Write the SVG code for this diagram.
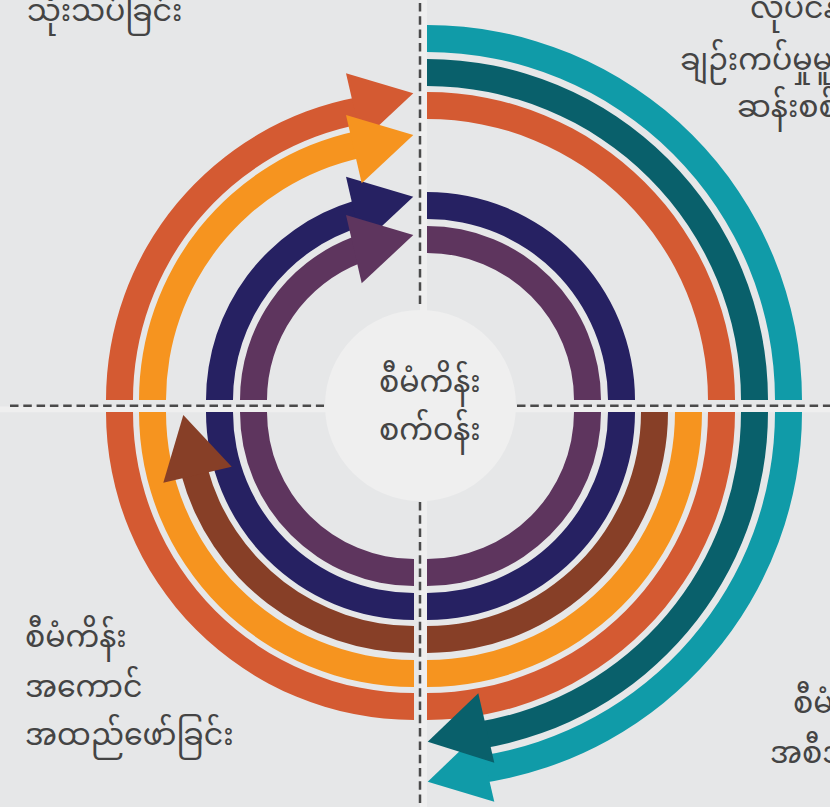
<svg xmlns="http://www.w3.org/2000/svg" width="830" height="807" viewBox="0 0 830 807">
<style>
.lbl{font-family:"Noto Sans Myanmar","Myanmar Text",Padauk,"Noto Sans","DejaVu Sans",sans-serif;font-size:30px;fill:#444444}
.dash{stroke:#4a4a4a;stroke-width:2.5;stroke-dasharray:8.5 4.8;fill:none}
.teal{fill:#109ba8}.dteal{fill:#09606b}.ored{fill:#d45a32}.orange{fill:#f6941f}.brown{fill:#873f27}.navy{fill:#262162}.purple{fill:#5e355e}
</style>
<rect width="830" height="807" fill="#e6e7e8"/>
<g id="dividers">
<rect x="420" y="0" width="7" height="807" fill="#efefef"/>
<rect x="0" y="406.5" width="830" height="5.8" fill="#efefef"/>
<line class="dash" x1="420" y1="3" x2="420" y2="306"/>
<line class="dash" x1="420" y1="502" x2="420" y2="807"/>
<line class="dash" x1="10" y1="405.7" x2="324" y2="405.7"/>
<line class="dash" x1="517" y1="405.7" x2="830" y2="405.7"/>
</g>
<g id="connectors">
<g id="navy">
<path class="navy" d="M427,192 A208,208 0 0 1 635,400 L608,400 A181,181 0 0 0 427,219 Z"/>
<path class="navy" d="M635,412 A208,208 0 0 1 427,620 L427,593 A181,181 0 0 0 608,412 Z"/>
<path class="navy" d="M414,620 A208,208 0 0 1 206,412 L233,412 A181,181 0 0 0 414,593 Z"/>
<path class="navy" d="M206,400 A208,208 0 0 1 354.2,200.8 L362.0,226.6 A181,181 0 0 0 233,400 Z"/>
<polygon class="navy" points="346,176.7 413.3,196.7 361.7,245"/>
</g>
<g id="purple">
<path class="purple" d="M427,226 A174,174 0 0 1 601,400 L574,400 A147,147 0 0 0 427,253 Z"/>
<path class="purple" d="M601,412 A174,174 0 0 1 427,586 L427,559 A147,147 0 0 0 574,412 Z"/>
<path class="purple" d="M414,586 A174,174 0 0 1 240,412 L267,412 A147,147 0 0 0 414,559 Z"/>
<path class="purple" d="M240,400 A174,174 0 0 1 352.2,237.3 L361.8,262.6 A147,147 0 0 0 267,400 Z"/>
<polygon class="purple" points="346,215 413.3,235 361.7,283.3"/>
</g>
<g id="orange-red">
<path class="ored" d="M427,92 A308,308 0 0 1 735,400 L708,400 A281,281 0 0 0 427,119 Z"/>
<path class="ored" d="M735,412 A308,308 0 0 1 427,720 L427,693 A281,281 0 0 0 708,412 Z"/>
<path class="ored" d="M414,720 A308,308 0 0 1 106,412 L133,412 A281,281 0 0 0 414,693 Z"/>
<path class="ored" d="M106,400 A308,308 0 0 1 357.3,97.3 L362.3,123.8 A281,281 0 0 0 133,400 Z"/>
<polygon class="ored" points="346,73.3 413.3,93.3 361.7,141.6"/>
</g>
<g id="orange">
<path class="orange" d="M702,412 A275,275 0 0 1 427,687 L427,660 A248,248 0 0 0 675,412 Z"/>
<path class="orange" d="M414,687 A275,275 0 0 1 139,412 L166,412 A248,248 0 0 0 414,660 Z"/>
<path class="orange" d="M139,400 A275,275 0 0 1 354.5,131.5 L360.3,157.9 A248,248 0 0 0 166,400 Z"/>
<polygon class="orange" points="346,115 413.3,135 361.7,183.3"/>
</g>
<g id="brown">
<path class="brown" d="M668,412 A241,241 0 0 1 427,653 L427,626 A214,214 0 0 0 641,412 Z"/>
<path class="brown" d="M414,653 A241,241 0 0 1 181.4,475.2 L207.5,468.1 A214,214 0 0 0 414,626 Z"/>
<polygon class="brown" points="183.3,415 163.3,482.7 231.7,466.7"/>
</g>
<g id="teal">
<path class="teal" d="M427,25 A375,375 0 0 1 802,400 L775,400 A348,348 0 0 0 427,52 Z"/>
<path class="teal" d="M802,412 A375,375 0 0 1 482.4,782.9 L478.4,756.2 A348,348 0 0 0 775,412 Z"/>
<polygon class="teal" points="427.7,781.7 478.3,733.3 494.3,801.7"/>
</g>
<g id="dark-teal">
<path class="dteal" d="M427,59 A341,341 0 0 1 768,400 L741,400 A314,314 0 0 0 427,86 Z"/>
<path class="dteal" d="M768,412 A341,341 0 0 1 483.9,748.2 L479.4,721.6 A314,314 0 0 0 741,412 Z"/>
<polygon class="dteal" points="427.7,741.7 478.3,693.3 494.3,762.7"/>
</g>
</g>
<g id="center">
<circle cx="420.5" cy="405.5" r="95.5" fill="#efefef"/>
<text class="lbl" x="379" y="392">စီမံကိန်း</text>
<text class="lbl" x="379" y="440">စက်ဝန်း</text>
</g>
<g id="label-review">
<text class="lbl" x="27" y="21">သုံးသပ်ခြင်း</text>
</g>
<g id="label-identify">
<text class="lbl" x="750" y="18">လုပ်ငန်း</text>
<text class="lbl" x="680" y="70">ချဉ်းကပ်မှုမူဘောင်</text>
<text class="lbl" x="737" y="117">ဆန်းစစ်ခြင်း</text>
</g>
<g id="label-implement">
<text class="lbl" x="25" y="647">စီမံကိန်း</text>
<text class="lbl" x="25" y="697">အကောင်</text>
<text class="lbl" x="25" y="745">အထည်ဖော်ခြင်း</text>
</g>
<g id="label-plan">
<text class="lbl" x="793" y="713">စီမံကိန်း</text>
<text class="lbl" x="770" y="763">အစီအစဉ်ရေးဆွဲခြင်း</text>
</g>
</svg>
